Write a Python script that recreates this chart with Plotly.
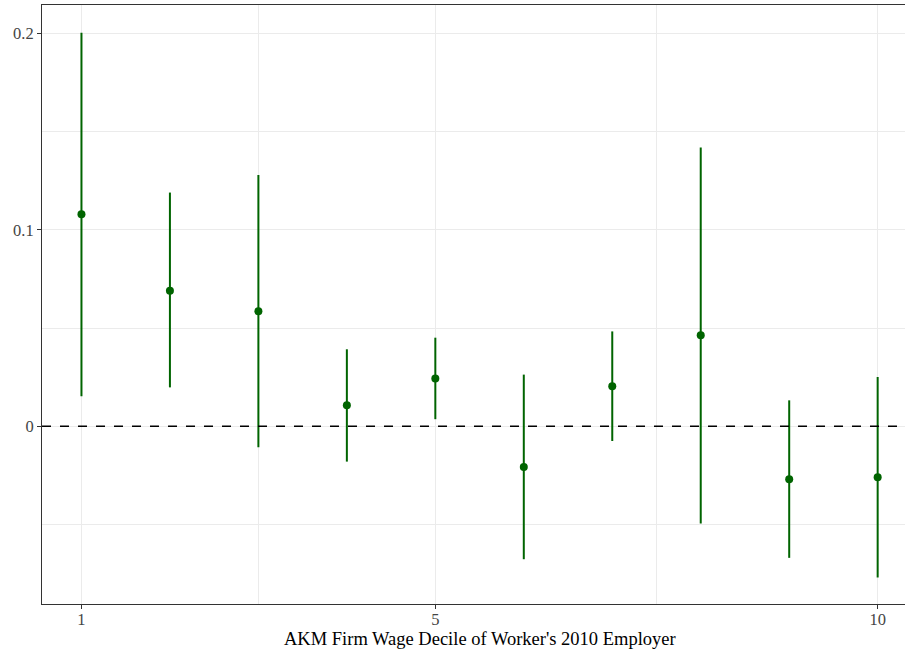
import plotly.graph_objects as go

# Estimates by AKM firm-wage decile with confidence intervals
deciles = [1, 2, 3, 4, 5, 6, 7, 8, 9, 10]
estimate = [0.108, 0.069, 0.0585, 0.0107, 0.0243, -0.0207, 0.0204, 0.0463, -0.027, -0.026]
ci_low = [0.0153, 0.0198, -0.0107, -0.018, 0.0036, -0.0677, -0.0075, -0.0495, -0.067, -0.077]
ci_high = [0.2004, 0.119, 0.128, 0.0392, 0.0451, 0.0263, 0.0483, 0.142, 0.0132, 0.0251]

x_ticks = [1, 5, 10]
x_minor = [3, 7.5]
y_ticks = [0, 0.1, 0.2]
y_tick_labels = ["0", "0.1", "0.2"]
y_minor = [-0.05, 0.05, 0.15]

GREEN = "#006400"
GRID = "#EBEBEB"
FRAME = "#333333"
TICK_TEXT = "#444444"
FONT = "Liberation Serif"

fig = go.Figure()

fig.add_trace(go.Scatter(
    x=deciles,
    y=estimate,
    mode="markers",
    marker=dict(color=GREEN, size=8),
    error_y=dict(
        type="data",
        symmetric=False,
        array=[h - e for h, e in zip(ci_high, estimate)],
        arrayminus=[e - l for e, l in zip(estimate, ci_low)],
        color=GREEN,
        thickness=2,
        width=0,
    ),
    showlegend=False,
    hoverinfo="skip",
))

# reference line at zero
fig.add_hline(y=0, line=dict(color="black", width=1.4, dash="dash"))

fig.update_layout(
    width=906,
    height=652,
    margin=dict(l=42, r=1, t=5, b=48),
    paper_bgcolor="white",
    plot_bgcolor="white",
    font=dict(family=FONT, color=TICK_TEXT, size=16),
    xaxis=dict(
        range=[0.554, 10.309],
        tickmode="array",
        tickvals=x_ticks,
        ticktext=[str(v) for v in x_ticks],
        showgrid=True,
        gridcolor=GRID,
        gridwidth=1.2,
        minor=dict(tickmode="array", tickvals=x_minor, showgrid=True,
                   gridcolor=GRID, gridwidth=0.7),
        zeroline=False,
        showline=True,
        linecolor=FRAME,
        linewidth=1,
        mirror=True,
        ticks="outside",
        ticklen=4,
        tickcolor=FRAME,
        ticklabelstandoff=-4,
        tickfont=dict(family=FONT, size=16.5, color=TICK_TEXT),
    ),
    yaxis=dict(
        range=[-0.0905, 0.2145],
        tickmode="array",
        tickvals=y_ticks,
        ticktext=y_tick_labels,
        showgrid=True,
        gridcolor=GRID,
        gridwidth=1.2,
        minor=dict(tickmode="array", tickvals=y_minor, showgrid=True,
                   gridcolor=GRID, gridwidth=0.7),
        zeroline=False,
        showline=True,
        linecolor=FRAME,
        linewidth=1,
        ticks="outside",
        ticklen=4,
        tickcolor=FRAME,
        tickfont=dict(family=FONT, size=16.5, color=TICK_TEXT),
    ),
)

# axis title centred on the full (expanded) decile range
fig.add_annotation(
    text="AKM Firm Wage Decile of Worker's 2010 Employer",
    x=5.5, xref="x",
    y=-(638 - 603) / (603 - 5), yref="paper",
    yanchor="middle", xanchor="center",
    showarrow=False,
    font=dict(family=FONT, size=18.5, color="black"),
)

fig.write_html("out.html")
